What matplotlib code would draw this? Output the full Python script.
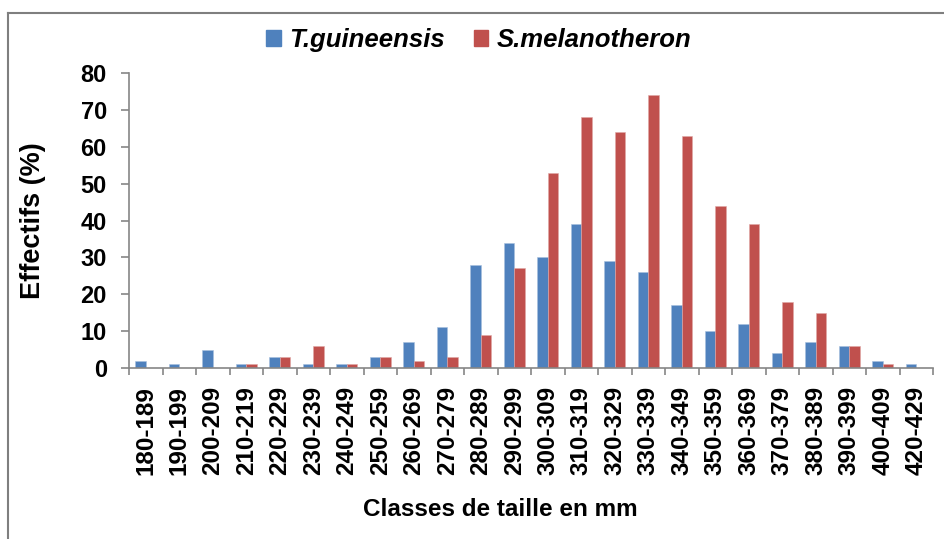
import numpy as np
import matplotlib
matplotlib.use("Agg")
import matplotlib.pyplot as plt
from matplotlib.lines import Line2D
from matplotlib.patches import Patch

plt.rcParams['font.family'] = ['Liberation Sans', 'DejaVu Sans']

classes = ["180-189", "190-199", "200-209", "210-219", "220-229", "230-239",
           "240-249", "250-259", "260-269", "270-279", "280-289", "290-299",
           "300-309", "310-319", "320-329", "330-339", "340-349", "350-359",
           "360-369", "370-379", "380-389", "390-399", "400-409", "420-429"]
t_guineensis = [2, 1, 5, 1, 3, 1, 1, 3, 7, 11, 28, 34, 30, 39, 29, 26, 17, 10,
                12, 4, 7, 6, 2, 1]
s_melanotheron = [0, 0, 0, 1, 3, 6, 1, 3, 2, 3, 9, 27, 53, 68, 64, 74, 63, 44,
                  39, 18, 15, 6, 1, 0]
yticks = [0, 10, 20, 30, 40, 50, 60, 70, 80]

blue = "#4F81BD"
red = "#C0504D"
grey = "#868686"

fig = plt.figure(figsize=(9.44, 5.39), dpi=100)
ax = fig.add_axes([129 / 944, 1 - 368 / 539, (933 - 129) / 944, (368 - 73) / 539])

x = np.arange(len(classes))
w = 0.31
ax.bar(x - w / 2, t_guineensis, w, color=blue, edgecolor="#a7c0de", linewidth=0.4)
ax.bar(x + w / 2, s_melanotheron, w, color=red, edgecolor="#dfa7a6", linewidth=0.4)

ax.set_xlim(-0.5, len(classes) - 0.5)
ax.set_ylim(0, 80)

for s in ["top", "right"]:
    ax.spines[s].set_visible(False)
for s in ["left", "bottom"]:
    ax.spines[s].set_color(grey)
    ax.spines[s].set_linewidth(1.2)

ax.set_yticks(yticks)
ax.set_yticklabels([str(v) for v in yticks], fontsize=17, fontweight="bold")
ax.tick_params(axis="y", direction="out", length=6, width=1.2, color=grey, pad=10)

# category boundaries carry the tick marks, centres carry the labels
ax.set_xticks(np.arange(len(classes) + 1) - 0.5)
ax.set_xticklabels([])
ax.tick_params(axis="x", which="major", direction="out", length=5, width=1.2, color=grey)
ax.set_xticks(x, minor=True)
ax.set_xticklabels(classes, minor=True, rotation=90, fontsize=17.5, fontweight="bold")
ax.tick_params(axis="x", which="minor", length=0, pad=13)

fig.text(500 / 944, 1 - 509 / 539, "Classes de taille en mm", ha="center", va="center",
         fontsize=17.5, fontweight="bold")
fig.text(33 / 944, 1 - 221 / 539, "Effectifs (%)", ha="center", va="center",
         rotation=90, fontsize=19.5, fontweight="bold")

handles = [Patch(color=blue), Patch(color=red)]
fig.legend(handles, ["T.guineensis", "S.melanotheron"], loc="center",
           bbox_to_anchor=(479 / 944, 1 - 40 / 539), ncol=2, frameon=False,
           handlelength=0.55, handleheight=0.55, handletextpad=0.35,
           columnspacing=1.1, prop={"size": 18.5, "weight": "bold", "style": "italic"})

# partial outer frame (left and top edges)
fig.add_artist(Line2D([8 / 944, 8 / 944], [0, 1 - 13 / 539], transform=fig.transFigure,
                      color="#7f7f7f", linewidth=1.5))
fig.add_artist(Line2D([8 / 944, 1], [1 - 13 / 539, 1 - 13 / 539], transform=fig.transFigure,
                      color="#7f7f7f", linewidth=1.5))

fig.savefig("out.png", dpi=100)
